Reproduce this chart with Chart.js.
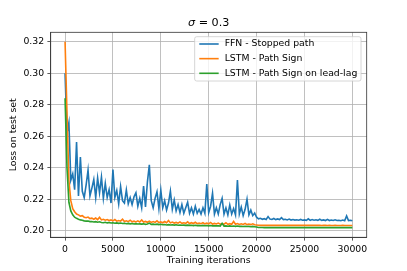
<!DOCTYPE html>
<html>
<head>
<meta charset="utf-8">
<script src="https://cdn.jsdelivr.net/npm/chart.js@4.4.0/dist/chart.umd.min.js"></script>
<style>
  html, body { margin: 0; padding: 0; background: #fff; }
  canvas { display: block; }
</style>
</head>
<body>
<canvas id="lossChart" width="407" height="271"></canvas>
<script>
/* ---------- Data ---------- */
const iterations = [
  0, 200, 400, 600, 800, 1000, 1200, 1400, 1600, 1800,
  2000, 2200, 2400, 2600, 2800, 3000, 3200, 3400, 3600, 3800,
  4000, 4200, 4400, 4600, 4800, 5000, 5200, 5400, 5600, 5800,
  6000, 6200, 6400, 6600, 6800, 7000, 7200, 7400, 7600, 7800,
  8000, 8200, 8400, 8600, 8800, 9000, 9200, 9400, 9600, 9800,
  10000, 10200, 10400, 10600, 10800, 11000, 11200, 11400, 11600, 11800,
  12000, 12200, 12400, 12600, 12800, 13000, 13200, 13400, 13600, 13800,
  14000, 14200, 14400, 14600, 14800, 15000, 15200, 15400, 15600, 15800,
  16000, 16200, 16400, 16600, 16800, 17000, 17200, 17400, 17600, 17800,
  18000, 18200, 18400, 18600, 18800, 19000, 19200, 19400, 19600, 19800,
  20000, 20200, 20400, 20600, 20800, 21000, 21200, 21400, 21600, 21800,
  22000, 22200, 22400, 22600, 22800, 23000, 23200, 23400, 23600, 23800,
  24000, 24200, 24400, 24600, 24800, 25000, 25200, 25400, 25600, 25800,
  26000, 26200, 26400, 26600, 26800, 27000, 27200, 27400, 27600, 27800,
  28000, 28200, 28400, 28600, 28800, 29000, 29200, 29400, 29600, 29800,
  30000
];

const ffnStopped = [
  0.300, 0.262, 0.2686, 0.232, 0.236, 0.226, 0.2563, 0.222, 0.2468, 0.225,
  0.221, 0.229, 0.2384, 0.222, 0.227, 0.2325, 0.221, 0.2335, 0.224, 0.234,
  0.2205, 0.230, 0.221, 0.226, 0.2175, 0.2388, 0.221, 0.2255, 0.217, 0.228,
  0.219, 0.2175, 0.2258, 0.217, 0.221, 0.2165, 0.2215, 0.224, 0.2155, 0.2205,
  0.2145, 0.2283, 0.215, 0.231, 0.2418, 0.219, 0.2145, 0.2205, 0.2247, 0.214,
  0.2257, 0.2145, 0.219, 0.213, 0.2175, 0.2251, 0.2135, 0.2194, 0.2125, 0.2165,
  0.2115, 0.2165, 0.211, 0.2145, 0.218, 0.211, 0.2145, 0.2105, 0.2155, 0.211,
  0.2135, 0.2105, 0.2145, 0.211, 0.2295, 0.2115, 0.2155, 0.2237, 0.2105, 0.2145,
  0.2105, 0.2165, 0.2205, 0.2105, 0.2145, 0.210, 0.2163, 0.2105, 0.214, 0.210,
  0.2321, 0.2105, 0.215, 0.2095, 0.2135, 0.2199, 0.210, 0.213, 0.2095, 0.2111,
  0.2085, 0.2075, 0.2078, 0.2072, 0.2076, 0.2071, 0.2089, 0.2073, 0.2071, 0.2077,
  0.2070, 0.2074, 0.2070, 0.2082, 0.2070, 0.2072, 0.2068, 0.2073, 0.2067, 0.2070,
  0.2067, 0.2069, 0.2066, 0.2071, 0.2066, 0.2068, 0.2065, 0.2075, 0.2065, 0.2070,
  0.2066, 0.2069, 0.2065, 0.2072, 0.2065, 0.2068, 0.2064, 0.2071, 0.2064, 0.2067,
  0.2064, 0.2069, 0.2064, 0.2066, 0.2063, 0.2067, 0.2063, 0.2093, 0.2064, 0.2066,
  0.2062
];

const lstmSign = [
  0.320, 0.275, 0.232, 0.219, 0.214, 0.212, 0.2105, 0.2100, 0.2092, 0.2095,
  0.2085, 0.2082, 0.2086, 0.2076, 0.2079, 0.2072, 0.2080, 0.2070, 0.2085, 0.2068,
  0.2072, 0.2066, 0.2070, 0.2064, 0.2068, 0.2062, 0.2070, 0.2060, 0.2064, 0.2060,
  0.2072, 0.2058, 0.2062, 0.2057, 0.2066, 0.2056, 0.2060, 0.2055, 0.2062, 0.2055,
  0.2068, 0.2054, 0.2058, 0.2053, 0.2060, 0.2052, 0.2057, 0.2052, 0.2062, 0.2051,
  0.2055, 0.2050, 0.2058, 0.2050, 0.2064, 0.2049, 0.2054, 0.2048, 0.2052, 0.2047,
  0.2055, 0.2046, 0.2050, 0.2046, 0.2056, 0.2045, 0.2050, 0.2045, 0.2053, 0.2044,
  0.2048, 0.2044, 0.2050, 0.2043, 0.2047, 0.2043, 0.2052, 0.2042, 0.2046, 0.2042,
  0.2048, 0.2041, 0.2045, 0.2041, 0.2050, 0.2040, 0.2044, 0.2040, 0.2058, 0.2040,
  0.2045, 0.2039, 0.2043, 0.2039, 0.2046, 0.2038, 0.2042, 0.2038, 0.2043, 0.2037,
  0.2036, 0.2034, 0.2033, 0.2034, 0.2033, 0.2033, 0.2034, 0.2033, 0.2033, 0.2034,
  0.2033, 0.2033, 0.2034, 0.2033, 0.2033, 0.2033, 0.2034, 0.2033, 0.2033, 0.2033,
  0.2033, 0.2034, 0.2033, 0.2033, 0.2033, 0.2034, 0.2033, 0.2033, 0.2033, 0.2033,
  0.2034, 0.2033, 0.2033, 0.2033, 0.2032, 0.2033, 0.2033, 0.2032, 0.2033, 0.2032,
  0.2032, 0.2033, 0.2032, 0.2032, 0.2032, 0.2033, 0.2032, 0.2032, 0.2032, 0.2032,
  0.2032
];

const lstmLeadLag = [
  0.284, 0.240, 0.218, 0.2125, 0.2100, 0.2085, 0.2078, 0.2072, 0.2068, 0.2066,
  0.2062, 0.2060, 0.2061, 0.2057, 0.2058, 0.2055, 0.2057, 0.2053, 0.2056, 0.2052,
  0.2050, 0.2053, 0.2049, 0.2051, 0.2048, 0.2050, 0.2047, 0.2049, 0.2046, 0.2048,
  0.2045, 0.2047, 0.2044, 0.2046, 0.2043, 0.2045, 0.2042, 0.2044, 0.2042, 0.2043,
  0.2041, 0.2043, 0.2040, 0.2042, 0.2048, 0.2040, 0.2041, 0.2039, 0.2041, 0.2038,
  0.2040, 0.2037, 0.2039, 0.2036, 0.2038, 0.2036, 0.2037, 0.2035, 0.2037, 0.2034,
  0.2036, 0.2034, 0.2035, 0.2033, 0.2035, 0.2033, 0.2034, 0.2032, 0.2034, 0.2032,
  0.2033, 0.2031, 0.2033, 0.2031, 0.2032, 0.2030, 0.2032, 0.2030, 0.2031, 0.2030,
  0.2031, 0.2029, 0.2046, 0.2029, 0.2030, 0.2028, 0.2030, 0.2028, 0.2029, 0.2027,
  0.2029, 0.2027, 0.2028, 0.2026, 0.2028, 0.2026, 0.2027, 0.2025, 0.2027, 0.2025,
  0.2023, 0.2020, 0.2020, 0.2020, 0.2019, 0.2020, 0.2019, 0.2020, 0.2019, 0.2019,
  0.2019, 0.2020, 0.2019, 0.2019, 0.2019, 0.2019, 0.2020, 0.2019, 0.2019, 0.2019,
  0.2019, 0.2019, 0.2019, 0.2020, 0.2019, 0.2019, 0.2019, 0.2019, 0.2019, 0.2019,
  0.2020, 0.2019, 0.2019, 0.2019, 0.2019, 0.2019, 0.2019, 0.2019, 0.2019, 0.2019,
  0.2019, 0.2019, 0.2019, 0.2019, 0.2019, 0.2019, 0.2019, 0.2019, 0.2019, 0.2019,
  0.2019
];

const seriesNames  = ['FFN - Stopped path', 'LSTM - Path Sign', 'LSTM - Path Sign on lead-lag'];
const seriesValues = [ffnStopped, lstmSign, lstmLeadLag];
const seriesColors = ['#1f77b4', '#ff7f0e', '#2ca02c'];

const xTicks = [0, 5000, 10000, 15000, 20000, 25000, 30000];
const yTicks = [0.20, 0.22, 0.24, 0.26, 0.28, 0.30, 0.32];

/* ---------- Look ---------- */
const FONT = "'DejaVu Sans', sans-serif";
const FS = 9.3;          // 10pt at the figure's dpi
const SPINE = '#333333';
const LW = 1.6;

Chart.defaults.font.family = FONT;
Chart.defaults.color = '#000';

// top + right spines, drawn over the lines like matplotlib
const framePlugin = {
  id: 'frame',
  afterDatasetsDraw(chart) {
    const { ctx, chartArea: a } = chart;
    ctx.save();
    ctx.strokeStyle = SPINE;
    ctx.lineWidth = 0.8;
    ctx.strokeRect(a.left, a.top, a.right - a.left, a.bottom - a.top);
    ctx.restore();
  }
};

// title with italic sigma
const titlePlugin = {
  id: 'sigmaTitle',
  afterDraw(chart) {
    const { ctx, chartArea: a } = chart;
    const size = 11.2;
    ctx.save();
    ctx.fillStyle = '#000';
    ctx.textBaseline = 'middle';
    ctx.font = `italic ${size}px ${FONT}`;
    const s1 = 'σ';
    const w1 = ctx.measureText(s1).width;
    ctx.font = `${size}px ${FONT}`;
    const s2 = ' = 0.3';
    const w2 = ctx.measureText(s2).width;
    const x0 = (a.left + a.right) / 2 - (w1 + w2) / 2;
    ctx.font = `italic ${size}px ${FONT}`;
    ctx.fillText(s1, x0, 23);
    ctx.font = `${size}px ${FONT}`;
    ctx.fillText(s2, x0 + w1, 23);
    ctx.restore();
  }
};

// legend inside the axes, upper right
const legendPlugin = {
  id: 'boxLegend',
  afterDraw(chart) {
    const { ctx, chartArea: a } = chart;
    ctx.save();
    ctx.font = `${FS}px ${FONT}`;
    const textW = Math.max(...seriesNames.map(n => ctx.measureText(n).width));
    const right = a.right - 5.7;
    const top = a.top + 4.4;
    const w = 4.6 + 19.4 + 6 + textW + 3.7;
    const h = 44.3;
    const left = right - w;

    ctx.beginPath();
    ctx.roundRect(left, top, w, h, 2);
    ctx.fillStyle = 'rgba(255,255,255,0.8)';
    ctx.fill();
    ctx.strokeStyle = '#cccccc';
    ctx.lineWidth = 0.8;
    ctx.stroke();

    seriesNames.forEach((name, i) => {
      const y = top + 7.3 + i * 14.65;
      ctx.beginPath();
      ctx.moveTo(left + 4.6, y);
      ctx.lineTo(left + 24, y);
      ctx.strokeStyle = seriesColors[i];
      ctx.lineWidth = LW;
      ctx.stroke();
      ctx.fillStyle = '#000';
      ctx.textBaseline = 'middle';
      ctx.fillText(name, left + 30, y);
    });
    ctx.restore();
  }
};

/* ---------- Chart ---------- */
const datasets = seriesNames.map((name, i) => ({
  label: name,
  data: iterations.map((it, k) => ({ x: it, y: seriesValues[i][k] })),
  borderColor: seriesColors[i],
  borderWidth: LW,
  pointRadius: 0,
  tension: 0,
  fill: false,
  order: seriesNames.length - i   // later series on top, as in the source
}));

new Chart(document.getElementById('lossChart'), {
  type: 'line',
  data: { datasets },
  plugins: [framePlugin, titlePlugin, legendPlugin],
  options: {
    responsive: false,
    animation: false,
    layout: { padding: { top: 32.3, right: 40.3, left: 0, bottom: 0 } },
    plugins: {
      legend: { display: false },
      title: { display: false },
      tooltip: { enabled: false }
    },
    scales: {
      x: {
        type: 'linear',
        min: -1500,
        max: 31500,
        afterBuildTicks: (s) => { s.ticks = xTicks.map(v => ({ value: v })); },
        afterFit: (s) => { s.height = 33.7; },
        ticks: {
          callback: (v) => String(v),
          font: { size: FS },
          padding: 3.3,
          maxRotation: 0,
          autoSkip: false
        },
        grid: { color: '#b0b0b0', lineWidth: 0.8, tickLength: 3.3, tickColor: SPINE, tickWidth: 0.8 },
        border: { display: true, color: SPINE, width: 0.8 },
        title: {
          display: true,
          text: 'Training iterations',
          font: { size: FS },
          padding: { top: 0, bottom: 4.5 }
        }
      },
      y: {
        min: 0.19575,
        max: 0.32595,
        afterBuildTicks: (s) => { s.ticks = yTicks.map(v => ({ value: v })); },
        afterFit: (s) => { s.width = 50.7; },
        ticks: {
          callback: (v) => v.toFixed(2),
          font: { size: FS },
          padding: 3.3,
          autoSkip: false
        },
        grid: { color: '#b0b0b0', lineWidth: 0.8, tickLength: 3.3, tickColor: SPINE, tickWidth: 0.8 },
        border: { display: true, color: SPINE, width: 0.8 },
        title: {
          display: true,
          text: 'Loss on test set',
          font: { size: FS },
          padding: { top: 8.4, bottom: 0 }
        }
      }
    }
  }
});
</script>
</body>
</html>
